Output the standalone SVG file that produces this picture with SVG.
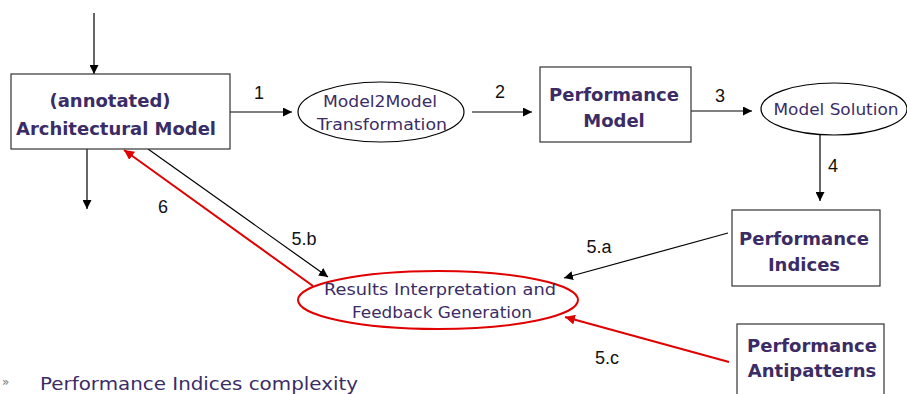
<svg xmlns="http://www.w3.org/2000/svg" width="907" height="394" viewBox="0 0 907 394">
<defs>
<marker id="ab" viewBox="0 0 10 10" refX="10" refY="5" markerWidth="9" markerHeight="9" markerUnits="userSpaceOnUse" orient="auto"><path d="M0,0 L10,5 L0,10 z" fill="#000"/></marker>
<marker id="ar" viewBox="0 0 10 10" refX="10" refY="5" markerWidth="10" markerHeight="10" markerUnits="userSpaceOnUse" orient="auto"><path d="M0,0 L10,5 L0,10 z" fill="#e00000"/></marker>
</defs>
<style>
.box{fill:#fff;stroke:#333;stroke-width:1.2}
.ell{fill:#fff;stroke:#000;stroke-width:1.2}
.ellr{fill:none;stroke:#e00000;stroke-width:2}
.bt{font-family:"DejaVu Sans",sans-serif;font-weight:bold;font-size:18px;fill:#3b2c66;text-anchor:middle}
.rt{font-family:"DejaVu Sans",sans-serif;font-size:16px;fill:#3b2c66;text-anchor:middle}
.lb{font-family:"Liberation Sans",Arial,sans-serif;font-size:18px;fill:#111;text-anchor:middle}
.cb{fill:none;stroke:#000;stroke-width:1.2;marker-end:url(#ab)}
.cr{fill:none;stroke:#e00000;stroke-width:2;marker-end:url(#ar)}
</style>
<rect width="907" height="394" fill="#fff"/>
<g id="connectors">
<line class="cb" x1="94" y1="13" x2="94" y2="74"/>
<line class="cb" x1="87" y1="149" x2="87" y2="209"/>
<line class="cb" x1="230" y1="112" x2="292" y2="112"/>
<line class="cb" x1="472" y1="112" x2="532" y2="112"/>
<line class="cb" x1="691" y1="111" x2="752" y2="111"/>
<line class="cb" x1="820" y1="135" x2="820" y2="201"/>
<line class="cb" x1="148" y1="149" x2="328" y2="277"/>
<line class="cb" x1="728" y1="233" x2="564" y2="278"/>
<line class="cr" x1="313" y1="286" x2="124" y2="150"/>
<line class="cr" x1="729" y1="362" x2="565" y2="317"/>
<text class="lb" x="259" y="99">1</text>
<text class="lb" x="500" y="98">2</text>
<text class="lb" x="720" y="102">3</text>
<text class="lb" x="833" y="172">4</text>
<text class="lb" x="163" y="213">6</text>
<text class="lb" x="304" y="245">5.b</text>
<text class="lb" x="599" y="253">5.a</text>
<text class="lb" x="607" y="364">5.c</text>
</g>
<g id="arch">
<rect class="box" x="11" y="74" width="219" height="75"/>
<text class="bt" x="110" y="107">(annotated)</text>
<text class="bt" x="116" y="135" textLength="200" lengthAdjust="spacingAndGlyphs">Architectural  Model</text>
</g>
<g id="m2m">
<ellipse class="ell" cx="381" cy="112" rx="83" ry="30"/>
<text class="rt" x="380" y="107" textLength="114" lengthAdjust="spacingAndGlyphs">Model2Model</text>
<text class="rt" x="382" y="130" textLength="130" lengthAdjust="spacingAndGlyphs">Transformation</text>
</g>
<g id="perfmodel">
<rect class="box" x="540" y="67" width="151" height="75"/>
<text class="bt" x="614" y="101">Performance</text>
<text class="bt" x="614" y="127">Model</text>
</g>
<g id="solution">
<ellipse class="ell" cx="834" cy="109" rx="73" ry="26"/>
<text class="rt" x="836" y="115" textLength="125" lengthAdjust="spacingAndGlyphs">Model Solution</text>
</g>
<g id="indices">
<rect class="box" x="732" y="210" width="148" height="76"/>
<text class="bt" x="804" y="245">Performance</text>
<text class="bt" x="804" y="271">Indices</text>
</g>
<g id="antipatterns">
<rect class="box" x="737" y="324" width="147" height="80"/>
<text class="bt" x="812" y="352">Performance</text>
<text class="bt" x="812" y="377">Antipatterns</text>
</g>
<g id="results">
<ellipse class="ellr" cx="438" cy="300" rx="140" ry="29"/>
<text class="rt" x="440" y="295" textLength="232" lengthAdjust="spacingAndGlyphs">Results Interpretation and</text>
<text class="rt" x="442" y="318" textLength="180" lengthAdjust="spacingAndGlyphs">Feedback Generation</text>
</g>
<text x="2" y="386" font-family="DejaVu Sans,sans-serif" font-size="12" fill="#777">»</text>
<text x="40" y="390" font-family="DejaVu Sans,sans-serif" font-size="18" fill="#3b2c66" textLength="318" lengthAdjust="spacingAndGlyphs">Performance Indices complexity</text>
</svg>
